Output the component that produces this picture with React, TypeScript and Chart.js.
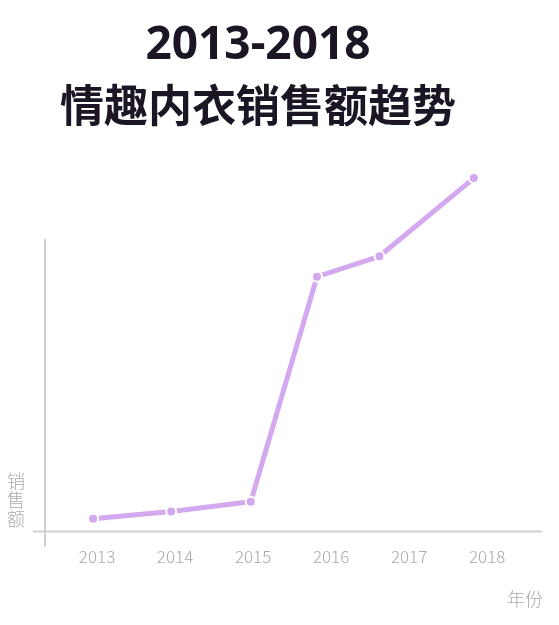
import { useEffect, useRef } from "react"
import { Chart, registerables } from "chart.js"

Chart.register(...registerables)

// year labels on the x axis
const years = [2013, 2014, 2015, 2016, 2017, 2018]
// where each point sits along the year axis
const pointYears = [2012.95, 2013.95, 2014.97, 2015.82, 2016.62, 2017.83]
// sales, relative units (no scale shown in the original)
const sales = [3.8, 5.9, 8.8, 75, 81, 104]

const titleLine1 = "2013-2018"
const titleLine2 = "情趣内衣销售额趋势"
const yTitle = ["销", "售", "额"]
const xTitle = "年份"

const LINE_COLOR = "#d4a8ee"
const AXIS_COLOR = "#cfcfcf"
const LABEL_COLOR = "#a9a9a9"

const axisPlugin = {
  id: "axisLines",
  beforeDatasetsDraw(chart: any) {
    const { ctx, chartArea } = chart
    ctx.save()
    ctx.strokeStyle = AXIS_COLOR
    ctx.lineWidth = 2
    ctx.beginPath()
    // y axis, starts a bit below top of plot and crosses the x axis
    ctx.moveTo(chartArea.left, chartArea.top + 83)
    ctx.lineTo(chartArea.left, chartArea.bottom + 15)
    // x axis, sticks out left of the y axis and past the plot
    ctx.moveTo(chartArea.left - 12, chartArea.bottom)
    ctx.lineTo(chartArea.right + 26, chartArea.bottom)
    ctx.stroke()

    ctx.fillStyle = LABEL_COLOR
    ctx.textBaseline = "middle"
    // vertical stacked y title
    ctx.font = "300 18px 'Noto Sans CJK SC', sans-serif"
    ctx.textAlign = "center"
    yTitle.forEach((ch, i) => {
      ctx.fillText(ch, 16, chartArea.bottom - 50 + i * 19)
    })
    // x title at bottom right
    ctx.textAlign = "right"
    ctx.fillText(xTitle, chartArea.right + 27, chartArea.bottom + 68)
    ctx.restore()
  },
}

export default function App() {
  const chartRef = useRef<HTMLCanvasElement>(null)
  const chartInstance = useRef<Chart | null>(null)

  useEffect(() => {
    document.body.style.margin = "0"
    if (!chartRef.current) return
    if (chartInstance.current) chartInstance.current.destroy()
    const ctx = chartRef.current.getContext("2d")
    if (!ctx) return

    chartInstance.current = new Chart(ctx, {
      type: "line",
      data: {
        datasets: [
          {
            data: pointYears.map((x, i) => ({ x, y: sales[i] })),
            borderColor: LINE_COLOR,
            backgroundColor: LINE_COLOR,
            borderWidth: 5,
            pointRadius: 5,
            pointBorderColor: "#ffffff",
            pointBorderWidth: 2,
            pointBackgroundColor: LINE_COLOR,
            tension: 0,
            clip: false as any,
          },
        ],
      },
      plugins: [axisPlugin],
      options: {
        animation: false,
        responsive: false,
        layout: { padding: { left: 0, right: 43, top: 0, bottom: 43 } },
        plugins: {
          legend: { display: false },
          tooltip: { enabled: false },
          title: {
            display: true,
            text: titleLine1,
            color: "#1c1524",
            font: { family: "'Noto Sans', 'Noto Sans CJK SC', sans-serif", size: 46, weight: "bold" },
            padding: { top: 18, bottom: 0 },
          },
          subtitle: {
            display: true,
            text: titleLine2,
            color: "#1c1524",
            font: { family: "'Noto Sans CJK SC', sans-serif", size: 44, weight: "bold" },
            padding: { top: 6, bottom: 24 },
          },
        },
        scales: {
          x: {
            type: "linear",
            min: 2012.333,
            max: 2018.37,
            grid: { display: false, drawTicks: false },
            border: { display: false },
            ticks: {
              stepSize: 1,
              includeBounds: false,
              padding: 15,
              color: LABEL_COLOR,
              font: { family: "'Noto Sans CJK SC', sans-serif", size: 17, weight: 300 as any },
              callback: (v: any) => (years.includes(Number(v)) ? String(v) : ""),
            },
          },
          y: {
            min: 0,
            max: 110.5,
            grid: { display: false, drawTicks: false },
            border: { display: false },
            ticks: { display: false },
            afterFit: (scale: any) => {
              scale.width = 45
            },
          },
        },
      },
    })

    return () => {
      if (chartInstance.current) {
        chartInstance.current.destroy()
        chartInstance.current = null
      }
    }
  }, [])

  return (
    <div style={{ width: 559, height: 625, background: "#ffffff" }}>
      <canvas ref={chartRef} width={559} height={625} />
    </div>
  )
}
